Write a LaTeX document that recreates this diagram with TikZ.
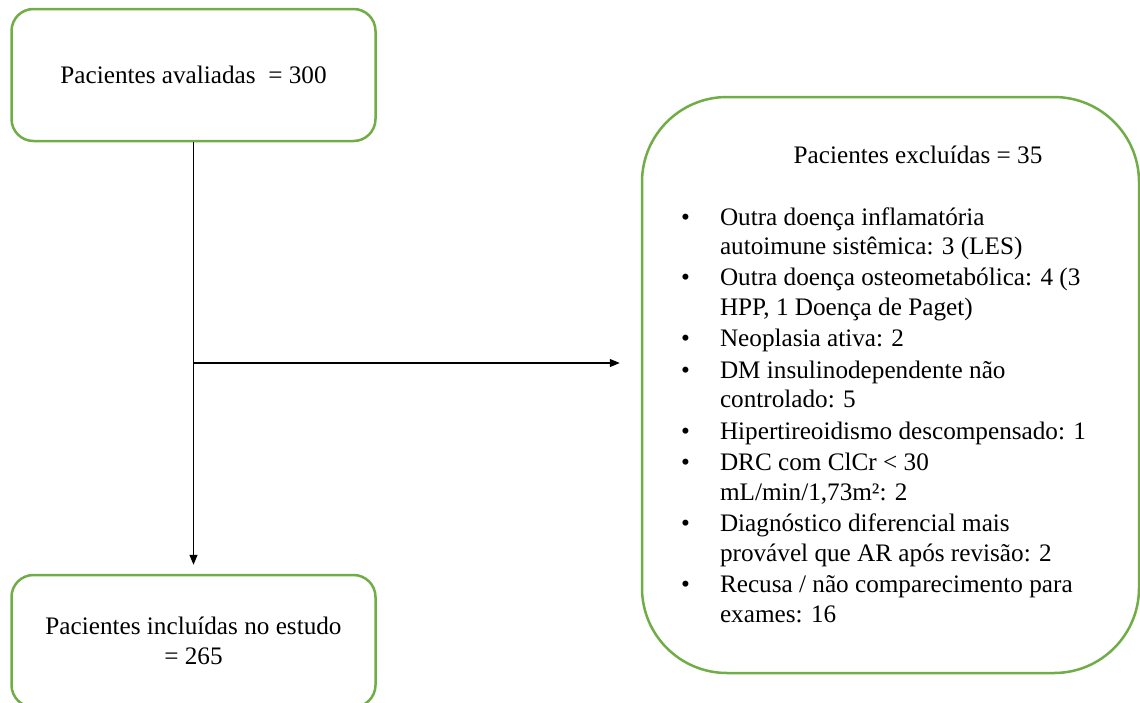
\documentclass[tikz,border=0pt]{standalone}
\usepackage{fontspec}
\setmainfont{Liberation Serif}
\usetikzlibrary{arrows.meta}
\definecolor{boxgreen}{HTML}{70AD47}
\begin{document}
\begin{tikzpicture}[x=1pt,y=-1pt,
  flowbox/.style={draw=boxgreen, line width=2.5pt, rounded corners=22pt, align=center,
    font=\fontsize{25.2}{30}\selectfont, inner sep=0pt},
  txt/.style={font=\fontsize{25.2}{29.3}\selectfont, inner sep=0pt},
  conn/.style={line width=1.2pt, -{Triangle[length=10pt,width=8pt]}}]
\useasboundingbox (0,0) rectangle (1140,702);
\node[flowbox, minimum width=364pt, minimum height=132pt] (aval) at (193.5,75) {Pacientes avaliadas \ = 300};
\node[flowbox, minimum width=364pt, minimum height=132pt] (incl) at (193.5,641) {Pacientes incluídas no estudo\\= 265};
\node[flowbox, rounded corners=85pt, minimum width=497pt, minimum height=576pt] (excl) at (890.5,385) {};
\node[txt] (excltitle) at (918,155) {Pacientes excluídas = 35};
\node[txt, anchor=base west] (excllist) at (681,225) {%
\begin{tabular}[t]{@{}c@{\hspace{30pt}}l@{}}
• & Outra doença inflamatória\\
  & autoimune sistêmica: 3 (LES)\\[2.3pt]
• & Outra doença osteometabólica: 4 (3\\
  & HPP, 1 Doença de Paget)\\[2.3pt]
• & Neoplasia ativa: 2\\[2.3pt]
• & DM insulinodependente não\\
  & controlado: 5\\[2.3pt]
• & Hipertireoidismo descompensado: 1\\[2.3pt]
• & DRC com ClCr < 30\\
  & mL/min/1,73m²: 2\\[2.3pt]
• & Diagnóstico diferencial mais\\
  & provável que AR após revisão: 2\\[2.3pt]
• & Recusa / não comparecimento para\\
  & exames: 16
\end{tabular}};
\coordinate (junction) at (193.5,363);
\draw[conn, shorten >=9pt] (aval) -- (incl);
\draw[conn, shorten >=21pt] (junction) -- (junction -| excl.west);
\end{tikzpicture}
\end{document}
